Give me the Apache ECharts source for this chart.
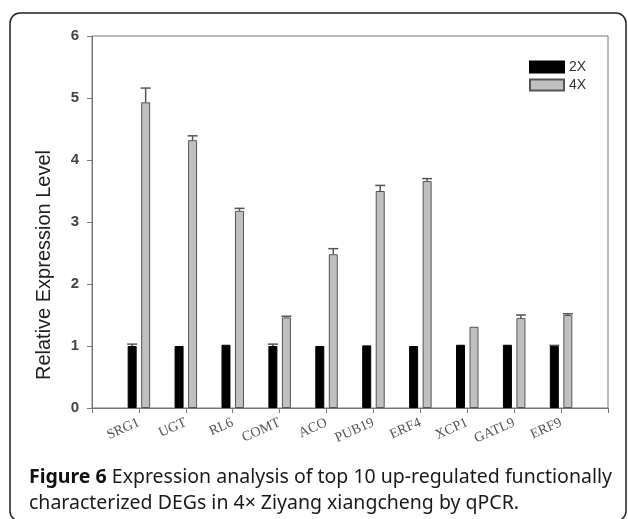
<!DOCTYPE html>
<html>
<head>
<meta charset="utf-8">
<script src="https://cdn.jsdelivr.net/npm/echarts@6/dist/echarts.min.js"></script>
<style>
html,body{margin:0;padding:0;background:#fff;}
#c{width:628px;height:519px;}
</style>
</head>
<body>
<div id="c"></div>
<script>
var categories = ['SRG1','UGT','RL6','COMT','ACO','PUB19','ERF4','XCP1','GATL9','ERF9'];
var yTicks = [0,1,2,3,4,5,6];
var values2X = [1.00,1.00,1.02,1.00,1.00,1.01,1.00,1.02,1.02,1.00];
var errors2X = [0.03,0,0,0.03,0,0,0,0,0,0.01];
var values4X = [4.93,4.32,3.18,1.46,2.48,3.50,3.66,1.31,1.45,1.50];
var errors4X = [0.23,0.07,0.04,0.02,0.09,0.09,0.04,0,0.05,0.02];
var seriesNames = ['2X','4X'];
var yTitle = 'Relative Expression Level';
var captionBold = 'Figure 6';
var captionRest = ' Expression analysis of top 10 up-regulated functionally\ncharacterized DEGs in 4× Ziyang xiangcheng by qPCR.';

var axisCats = [''].concat(categories).concat(['']);
function padded(arr){ return [null].concat(arr).concat([null]); }
function errData(vals, errs){
  return vals.map(function(v,i){ return [i+1, v, errs[i]]; });
}
function errSeries(vals, errs, offset){
  return {
    type:'custom',
    data: errData(vals, errs),
    encode:{x:0,y:1},
    z:5,
    silent:true,
    renderItem:function(params, api){
      var e = api.value(2);
      if(!e) return null;
      var p0 = api.coord([api.value(0), api.value(1)]);
      var p1 = api.coord([api.value(0), api.value(1)+e]);
      var x = p0[0] + offset;
      return {
        type:'group',
        children:[
          {type:'line', shape:{x1:x,y1:p0[1],x2:x,y2:p1[1]}, style:{stroke:'#555',lineWidth:1.5}},
          {type:'line', shape:{x1:x-5,y1:p1[1],x2:x+5,y2:p1[1]}, style:{stroke:'#555',lineWidth:1.5}}
        ]
      };
    }
  };
}

var chart = echarts.init(document.getElementById('c'), null, {renderer:'canvas'});
chart.setOption({
  animation:false,
  backgroundColor:'#fff',
  grid:{left:92,top:36,right:20,bottom:111,show:true,borderColor:'#777',borderWidth:1,backgroundColor:'transparent'},
  legend:{
    orient:'vertical', left:524, top:55, itemWidth:34, itemHeight:11, itemGap:4,
    icon:'rect',
    textStyle:{fontFamily:'Liberation Sans',fontSize:14,color:'#333'},
    data:seriesNames
  },
  xAxis:{
    type:'category', data:axisCats, boundaryGap:false,
    axisLine:{lineStyle:{color:'#777',width:1}},
    axisTick:{show:true,interval:0,length:5,lineStyle:{color:'#777'}},
    axisLabel:{interval:0,rotate:24,fontFamily:'Liberation Serif',fontSize:14,color:'#555',margin:14},
    splitLine:{show:false}
  },
  yAxis:{
    type:'value', min:yTicks[0], max:yTicks[yTicks.length-1], interval:1,
    axisLine:{show:true,lineStyle:{color:'#777',width:1}},
    axisTick:{show:true,length:5,lineStyle:{color:'#777'}},
    axisLabel:{fontFamily:'Liberation Sans',fontSize:15,fontWeight:'bold',color:'#444',margin:13},
    splitLine:{show:false}
  },
  series:[
    {name:seriesNames[0], type:'bar', data:padded(values2X), barWidth:9, barGap:'50%',
     itemStyle:{color:'#000',borderColor:'#000',borderWidth:1}},
    {name:seriesNames[1], type:'bar', data:padded(values4X), barWidth:9, barGap:'50%',
     itemStyle:{color:'#c0c0c0',borderColor:'#555',borderWidth:1}},
    errSeries(values2X, errors2X, -6.75),
    errSeries(values4X, errors4X, 6.75)
  ],
  graphic:[
    {type:'rect', shape:{x:10,y:13,width:616,height:508,r:10}, style:{fill:'none',stroke:'#222',lineWidth:1.5}, silent:true, z:-1},
    {type:'text', x:44, y:265, rotation:Math.PI/2, silent:true, style:{
      text:yTitle, fontFamily:'Liberation Sans', fontSize:20, fill:'#222',
      align:'center', verticalAlign:'middle'
    }},
    {type:'text', left:29, top:464, silent:true, style:{
      text:'{b|' + captionBold + '}' + captionRest,
      rich:{b:{fontWeight:'bold',fontFamily:'Noto Sans',fontSize:19.5,fill:'#111',lineHeight:26}},
      fontFamily:'Noto Sans', fontSize:19.5, fill:'#1a1a1a', lineHeight:26
    }}
  ]
});
</script>
</body>
</html>
